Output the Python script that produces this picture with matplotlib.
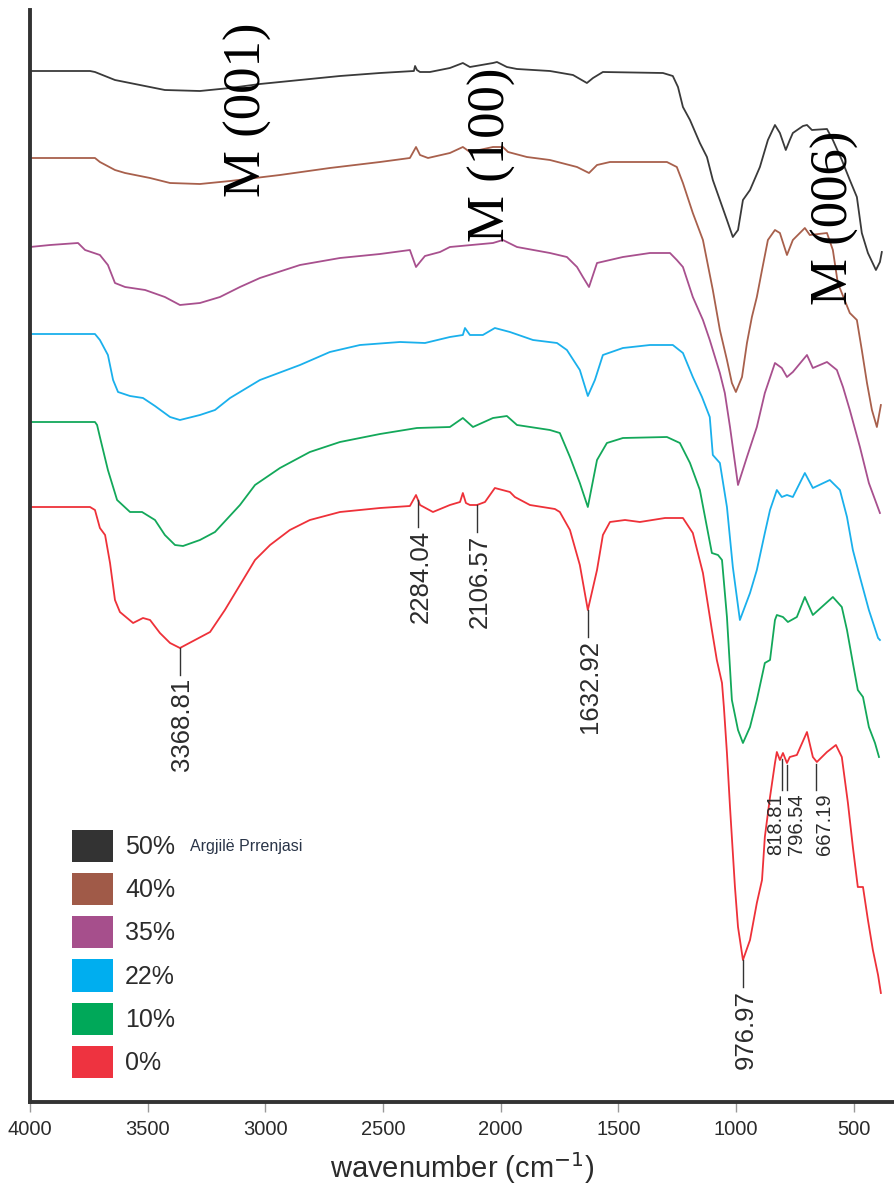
import numpy as np
import matplotlib
matplotlib.use("Agg")
import matplotlib.pyplot as plt
from matplotlib.patches import Patch

plt.rcParams['font.family'] = ['Liberation Sans', 'DejaVu Sans']

# FTIR spectra (stacked, arbitrary transmittance units)
wn_50 = [4000, 3745, 3724, 3639, 3427, 3278, 3150, 3023, 2853, 2683, 2513, 2369, 2364, 2356, 2343, 2301,
         2216, 2161, 2131, 2033, 2016, 1974, 1931, 1791, 1693, 1634, 1608, 1566, 1311, 1269, 1247, 1226,
         1196, 1154, 1124, 1099, 1069, 1039, 1014, 992, 971, 941, 899, 865, 835, 814, 789, 772, 759, 716,
         699, 678, 614, 589, 551, 517, 487, 466, 440, 406, 389, 381]
t_50 = [103.1, 103.1, 103.0, 102.2, 101.2, 101.1, 101.4, 101.8, 102.2, 102.6, 102.9, 103.1, 103.6, 103.2, 103.0, 103.0,
        103.4, 103.9, 103.5, 103.9, 104.0, 103.5, 103.3, 103.1, 102.7, 101.9, 102.4, 103.0, 102.9, 102.6, 101.5, 99.5,
        98.2, 95.9, 94.5, 92.2, 90.2, 88.2, 86.5, 87.2, 90.2, 91.2, 93.5, 96.2, 97.7, 96.9, 95.2, 96.2, 96.9, 97.6,
        97.7, 97.2, 97.3, 96.2, 94.2, 92.2, 90.5, 86.9, 84.9, 83.2, 84.0, 85.0]

wn_40 = [4000, 3724, 3703, 3639, 3596, 3490, 3405, 3278, 3150, 2938, 2726, 2513, 2386, 2360, 2343, 2309,
         2216, 2161, 2131, 2033, 1991, 1969, 1889, 1791, 1676, 1625, 1591, 1536, 1294, 1252, 1226, 1184,
         1141, 1099, 1069, 1039, 1018, 1001, 975, 954, 933, 912, 890, 865, 835, 814, 784, 759, 708, 687,
         614, 589, 568, 517, 487, 466, 444, 423, 402, 385]
t_40 = [94.4, 94.4, 94.0, 93.2, 92.9, 92.4, 91.9, 91.8, 92.1, 92.7, 93.4, 94.0, 94.4, 95.5, 94.7, 94.4,
        94.9, 95.5, 95.0, 95.5, 95.5, 95.0, 94.5, 94.2, 93.5, 92.9, 93.7, 94.0, 94.0, 93.5, 91.9, 88.9,
        86.2, 81.2, 77.2, 74.2, 71.9, 71.0, 72.5, 75.9, 78.5, 80.5, 83.2, 86.2, 87.2, 86.9, 84.7, 86.2, 87.4, 86.7,
        86.9, 85.2, 81.9, 78.9, 78.2, 75.2, 71.9, 69.2, 67.5, 69.7]

wn_35 = [4000, 3915, 3796, 3766, 3703, 3669, 3639, 3596, 3511, 3427, 3363, 3278, 3193, 3108, 3023, 2853,
         2683, 2513, 2386, 2360, 2343, 2322, 2258, 2216, 2033, 1991, 1931, 1791, 1719, 1676, 1651, 1625,
         1591, 1536, 1481, 1366, 1281, 1252, 1226, 1184, 1141, 1112, 1069, 1048, 1026, 992, 954, 912,
         878, 835, 806, 784, 759, 699, 674, 614, 572, 546, 517, 474, 436, 389]
t_35 = [85.5, 85.7, 85.9, 85.2, 84.7, 83.7, 81.9, 81.5, 81.2, 80.5, 79.7, 79.9, 80.5, 81.5, 82.4, 83.7,
        84.4, 84.8, 85.2, 83.5, 84.0, 84.6, 85.0, 85.5, 85.9, 86.2, 85.5, 84.9, 84.5, 83.5, 82.5, 81.5,
        83.9, 84.2, 84.5, 84.9, 84.9, 84.2, 83.5, 80.5, 78.2, 76.2, 72.9, 70.9, 67.5, 61.7, 64.5, 67.5,
        70.9, 73.9, 73.4, 72.5, 73.0, 74.7, 73.4, 74.0, 73.2, 71.5, 69.2, 65.5, 61.9, 58.9]

wn_22 = [4000, 3724, 3703, 3669, 3647, 3626, 3575, 3520, 3469, 3405, 3363, 3278, 3214, 3150, 3023, 2853,
         2726, 2598, 2428, 2322, 2216, 2161, 2152, 2131, 2076, 2025, 1961, 1863, 1761, 1719, 1664, 1630,
         1600, 1566, 1481, 1366, 1269, 1226, 1184, 1145, 1112, 1099, 1069, 1039, 1014, 984, 941, 912,
         878, 856, 827, 806, 784, 759, 708, 674, 602, 559, 529, 504, 474, 436, 397, 389]
t_22 = [76.8, 76.8, 76.2, 74.7, 72.2, 71.0, 70.6, 70.4, 69.6, 68.5, 68.2, 68.7, 69.2, 70.4, 72.2, 73.7,
        75.0, 75.7, 76.0, 75.9, 76.5, 76.7, 77.4, 76.7, 76.7, 77.4, 77.0, 76.2, 75.9, 75.2, 73.2, 70.6,
        72.2, 74.7, 75.4, 75.7, 75.7, 74.9, 72.5, 70.5, 68.5, 64.7, 63.9, 59.5, 53.5, 48.2, 50.9, 53.2,
        56.9, 59.2, 61.2, 60.5, 60.7, 60.5, 62.9, 61.4, 62.2, 61.2, 58.5, 55.2, 52.5, 49.2, 46.4, 46.2]

wn_10 = [4000, 3724, 3715, 3703, 3669, 3630, 3575, 3524, 3469, 3427, 3384, 3350, 3278, 3214, 3108, 3044,
         2938, 2811, 2683, 2513, 2356, 2216, 2161, 2118, 2033, 1974, 1931, 1791, 1749, 1706, 1664, 1630,
         1591, 1549, 1481, 1294, 1239, 1196, 1154, 1103, 1077, 1060, 1039, 1018, 992, 971, 941, 912,
         878, 856, 835, 827, 801, 780, 742, 708, 674, 589, 551, 529, 504, 483, 461, 436, 410, 393]
t_10 = [68.0, 68.0, 67.7, 66.5, 63.2, 60.2, 59.0, 59.0, 58.2, 56.7, 55.7, 55.6, 56.2, 57.0, 59.7, 61.7,
        63.4, 65.0, 66.0, 66.8, 67.4, 67.5, 68.4, 67.5, 68.4, 68.6, 67.7, 67.2, 66.9, 64.5, 61.9, 59.5,
        64.2, 65.9, 66.4, 66.5, 65.9, 63.9, 61.2, 54.9, 54.7, 54.2, 48.5, 40.2, 37.2, 35.9, 37.5, 40.2,
        43.9, 44.2, 48.2, 48.7, 48.5, 48.0, 48.5, 50.5, 48.7, 50.5, 49.5, 47.2, 43.9, 41.2, 40.5, 37.5, 35.9, 34.5]

wn_0 = [4000, 3745, 3724, 3703, 3681, 3660, 3639, 3618, 3562, 3520, 3490, 3448, 3405, 3363, 3299, 3235,
        3172, 3108, 3044, 2980, 2896, 2811, 2683, 2513, 2386, 2360, 2343, 2288, 2216, 2173, 2161, 2148,
        2131, 2101, 2067, 2025, 1961, 1940, 1876, 1770, 1749, 1706, 1664, 1630, 1591, 1566, 1536, 1472,
        1409, 1302, 1226, 1184, 1141, 1103, 1082, 1060, 1052, 1039, 1026, 1005, 992, 971, 941, 912,
        890, 878, 856, 835, 827, 814, 801, 784, 772, 742, 699, 674, 657, 614, 576, 551, 525, 504,
        483, 461, 440, 419, 397, 385]
t_0 = [59.5, 59.5, 59.2, 57.4, 56.7, 53.9, 50.2, 49.0, 47.9, 48.4, 48.2, 46.9, 45.9, 45.4, 46.2, 47.0,
       49.2, 51.7, 54.2, 55.7, 57.2, 58.2, 59.0, 59.4, 59.6, 60.7, 59.7, 59.0, 59.7, 60.0, 60.9, 59.9,
       59.7, 59.7, 60.0, 61.4, 61.0, 60.5, 59.7, 59.3, 59.0, 57.2, 53.7, 49.2, 53.2, 56.7, 58.0, 58.2,
       58.0, 58.4, 58.4, 56.9, 52.9, 47.2, 44.2, 41.9, 39.5, 34.9, 29.5, 21.5, 17.5, 14.2, 16.2, 19.9,
       22.2, 26.5, 30.5, 33.9, 35.0, 34.2, 34.9, 33.9, 34.5, 34.7, 37.0, 34.5, 34.0, 35.0, 35.7, 34.5, 29.9, 25.5,
       21.5, 21.5, 18.2, 15.2, 12.7, 10.9]

series_labels = ["50%", "40%", "35%", "22%", "10%", "0%"]
series_wn = [wn_50, wn_40, wn_35, wn_22, wn_10, wn_0]
series_t = [t_50, t_40, t_35, t_22, t_10, t_0]
line_colors = ["#3a3a3a", "#a8604c", "#a8508e", "#1ab0ec", "#13a85a", "#ee3139"]
legend_colors = ["#333333", "#a05a48", "#a64f8c", "#00aeef", "#00a859", "#ee3340"]

# peak marks on the 0% spectrum (marker position, printed value)
peak_pos = [3363, 2352, 2101, 1630, 971]
peak_text = ["3368.81", "2284.04", "2106.57", "1632.92", "976.97"]
small_pos = [806, 785, 660]
small_text = ["818.81", "796.54", "667.19"]
small_text_at = [831, 742, 623]

fig = plt.figure(figsize=(8.95, 11.96), dpi=100)
ax = fig.add_axes([30/895, 94/1196, 865/895, 1092/1196])

for wn, t, c in zip(series_wn, series_t, line_colors):
    ax.plot(wn, t, color=c, lw=1.3)

ax.set_xlim(4000, 325)
ax.set_ylim(0, 109.2)

# peak annotations
for p, s in zip(peak_pos, peak_text):
    y0 = np.interp(p, wn_0[::-1], t_0[::-1])
    ax.plot([p, p], [y0, y0-2.7], color="#333333", lw=1)
    ax.text(p-10, y0-3.0, s, rotation=90, ha="center", va="top", fontsize=18.5, color="#2b2b2b")
for p, s, xt in zip(small_pos, small_text, small_text_at):
    y0 = np.interp(p, wn_0[::-1], t_0[::-1])
    ax.plot([p, p], [y0-0.3, 31.2], color="#333333", lw=1)
    ax.text(xt, 30.9, s, rotation=90, ha="center", va="top", fontsize=14.5, color="#2b2b2b")

# band assignments
for x, y, s in [(3074, 99.2, "M (001)"), (2037, 94.7, "M (100)"), (580, 88.4, "M (006)")]:
    ax.text(x, y, s, rotation=90, ha="center", va="center", fontsize=38,
            family="Liberation Serif", color="black", zorder=5)

# legend
handles = [Patch(facecolor=c, edgecolor="none") for c in legend_colors]
ax.legend(handles, series_labels, loc="upper left", bbox_to_anchor=(42/865, 272/1092),
          frameon=False, fontsize=18, handlelength=1.64, handleheight=1.6,
          handletextpad=0.48, labelspacing=0.44, borderpad=0, borderaxespad=0,
          labelcolor="#2b2b2b")
fig.text(190/895, 1 - 846/1196, "Argjilë Prrenjasi", fontsize=11.5, color="#2a3548",
         va="center", ha="left")

ax.set_xticks([4000, 3500, 3000, 2500, 2000, 1500, 1000, 500])
ax.set_yticks([])
ax.tick_params(axis="x", direction="out", length=7, width=1, color="#999999",
               labelsize=14.5, labelcolor="#2b2b2b", pad=6)
ax.set_xlabel("wavenumber (cm$^{-1}$)", fontsize=21, color="#2b2b2b", labelpad=8)
for side in ["top", "right"]:
    ax.spines[side].set_visible(False)
for side in ["left", "bottom"]:
    ax.spines[side].set_linewidth(2.8)
    ax.spines[side].set_color("#333333")

fig.savefig("out.png", dpi=100)
